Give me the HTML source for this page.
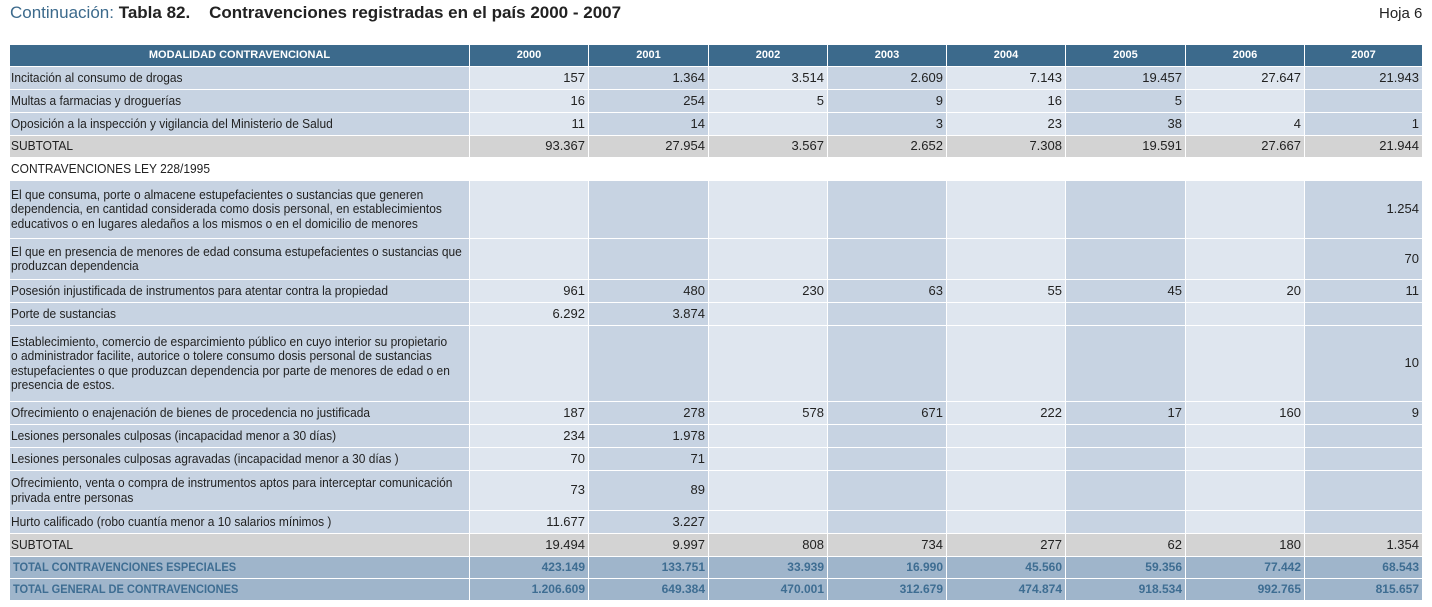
<!DOCTYPE html>
<html><head><meta charset="utf-8">
<style>
body{margin:0;width:1432px;height:607px;background:#fff;position:relative;overflow:hidden;font-family:"Liberation Sans",sans-serif;}
.c{position:absolute;box-sizing:border-box;display:flex;align-items:center;font-size:13px;color:#222;line-height:14.5px;white-space:nowrap;overflow:hidden;}
.lab{padding-left:1px;}
.lab .s{display:inline-block;transform:scaleX(.92);transform-origin:left center;}
.num{justify-content:flex-end;padding-right:3px;}
.h{background:#3c6a8c;color:#fff;font-weight:bold;font-size:11px;justify-content:center;}
.t{font-weight:bold;color:#3e6d92;font-size:12px;background:#9fb5cb;}
</style></head><body>
<div style="position:absolute;left:10px;top:3px;font-family:'Liberation Sans',sans-serif;font-size:17px;"><span style="color:#3c6a8c">Continuación:</span> <b style="color:#222">Tabla 82.&nbsp;&nbsp;&nbsp;&nbsp;Contravenciones registradas en el país 2000 - 2007</b></div>
<div style="position:absolute;left:1379px;top:5px;font-family:'Liberation Sans',sans-serif;font-size:15px;color:#222">Hoja 6</div>
<div id="tbl"></div>
<script>
const years=["2000","2001","2002","2003","2004","2005","2006","2007"];
const labels=[
"Incitación al consumo de drogas",
"Multas a farmacias y droguerías",
"Oposición a la inspección y vigilancia del Ministerio de Salud",
"SUBTOTAL",
"CONTRAVENCIONES LEY 228/1995",
"El que consuma, porte o almacene estupefacientes o sustancias que generen<br>dependencia, en cantidad considerada como dosis personal, en establecimientos<br>educativos o en lugares aledaños a los mismos o en el domicilio de menores",
"El que en presencia de menores de edad consuma estupefacientes o sustancias que<br>produzcan dependencia",
"Posesión injustificada de instrumentos para atentar contra la propiedad",
"Porte de sustancias",
"Establecimiento, comercio de esparcimiento público en cuyo interior su propietario<br>o administrador facilite, autorice o tolere consumo dosis personal de sustancias<br>estupefacientes o que produzcan dependencia por parte de menores de edad o en<br>presencia de estos.",
"Ofrecimiento o enajenación de bienes de procedencia no justificada",
"Lesiones personales culposas (incapacidad menor a 30 días)",
"Lesiones personales culposas agravadas (incapacidad menor a 30 días )",
"Ofrecimiento, venta o compra de instrumentos aptos para interceptar comunicación<br>privada entre personas",
"Hurto calificado (robo cuantía menor a 10 salarios mínimos )",
"SUBTOTAL",
"TOTAL CONTRAVENCIONES ESPECIALES",
"TOTAL GENERAL DE CONTRAVENCIONES"];
const values=[
["157","1.364","3.514","2.609","7.143","19.457","27.647","21.943"],
["16","254","5","9","16","5","",""],
["11","14","","3","23","38","4","1"],
["93.367","27.954","3.567","2.652","7.308","19.591","27.667","21.944"],
null,
["","","","","","","","1.254"],
["","","","","","","","70"],
["961","480","230","63","55","45","20","11"],
["6.292","3.874","","","","","",""],
["","","","","","","","10"],
["187","278","578","671","222","17","160","9"],
["234","1.978","","","","","",""],
["70","71","","","","","",""],
["73","89","","","","","",""],
["11.677","3.227","","","","","",""],
["19.494","9.997","808","734","277","62","180","1.354"],
["423.149","133.751","33.939","16.990","45.560","59.356","77.442","68.543"],
["1.206.609","649.384","470.001","312.679","474.874","918.534","992.765","815.657"]];
const kinds=["r","r","r","s","sec","r","r","r","r","r","r","r","r","r","r","s","t","t"];
const rowH=[23,23,23,22,23,58,41,23,23,76,23,23,23,40,23,23,22,22];
const colX=[10,470,589,709,828,947,1066,1186,1305,1423];
const tbl=document.getElementById('tbl');
function cell(x,y,w,h,cls,html,bg){const d=document.createElement('div');d.className='c '+cls;d.style.cssText=`left:${x}px;top:${y}px;width:${w}px;height:${h}px;`+(bg?`background:${bg};`:'');d.innerHTML=html;tbl.appendChild(d);return d;}
let y=45;
let hd=cell(colX[0],y,colX[1]-colX[0]-1,21,'h','MODALIDAD CONTRAVENCIONAL');


years.forEach((yr,i)=>{const c=cell(colX[i+1],y,colX[i+2]-colX[i+1]-1,21,'h',yr);

});
y+=22;
labels.forEach((lb,r)=>{const h=rowH[r]-1;const k=kinds[r];
let bgL=k==='s'?'#d3d3d3':(k==='t'?'#9fb5cb':(k==='sec'?'#fff':'#c7d3e2'));
const l=cell(colX[0],y,colX[1]-colX[0]-1,h,'lab'+(k==='t'?' t':''),'<span class="s">'+lb+'</span>',bgL);


if(k==='t'){l.style.paddingLeft='3px';}
if(values[r]){values[r].forEach((v,i)=>{let bg=k==='s'?'#d3d3d3':(k==='t'?'#9fb5cb':(i%2===0?'#dfe6ef':'#c7d3e2'));
const c=cell(colX[i+1],y,colX[i+2]-colX[i+1]-1,h,'num'+(k==='t'?' t':''),v,bg);

});}
y+=rowH[r];});
</script>
</body></html>
